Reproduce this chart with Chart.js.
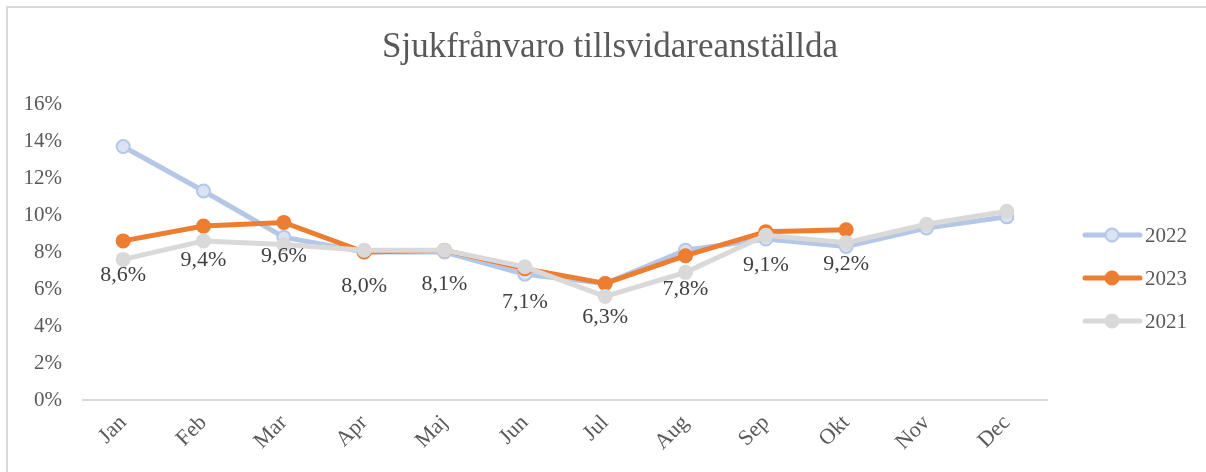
<!DOCTYPE html>
<html>
<head>
<meta charset="utf-8">
<script src="https://cdn.jsdelivr.net/npm/chart.js@4.4.0/dist/chart.umd.min.js"></script>
<style>
  html, body { margin: 0; padding: 0; background: #fff; }
  #wrap { position: relative; width: 1206px; height: 472px; overflow: hidden; }
  #frame { position: absolute; left: 6px; top: 6px; width: 1300px; height: 600px;
           border-left: 2px solid #d9d9d9; border-top: 2px solid #d9d9d9; }
  canvas { position: absolute; left: 0; top: 0; }
</style>
</head>
<body>
<div id="wrap">
  <div id="frame"></div>
  <canvas id="myChart" width="1206" height="472"></canvas>
</div>
<script>
const title = 'Sjukfrånvaro tillsvidareanställda';
const months = ['Jan', 'Feb', 'Mar', 'Apr', 'Maj', 'Jun', 'Jul', 'Aug', 'Sep', 'Okt', 'Nov', 'Dec'];
const v2022 = [13.7, 11.3, 8.8, 8.0, 8.0, 6.8, 6.3, 8.1, 8.7, 8.3, 9.3, 9.9];
const v2023 = [8.6, 9.4, 9.6, 8.0, 8.1, 7.1, 6.3, 7.8, 9.1, 9.2, null, null];
const v2021 = [7.6, 8.6, 8.4, 8.1, 8.1, 7.2, 5.6, 6.9, 8.9, 8.5, 9.5, 10.2];
const yTicks = [0, 2, 4, 6, 8, 10, 12, 14, 16];

const serif = "'Liberation Serif', 'Times New Roman', serif";

// titel, etiketter för 2023 och förklaring ritas här
const extras = {
  id: 'extras',
  afterDraw(chart) {
    const ctx = chart.ctx;
    const area = chart.chartArea;
    ctx.save();

    ctx.fillStyle = '#595959';
    ctx.font = '35px ' + serif;
    ctx.textAlign = 'center';
    ctx.textBaseline = 'middle';
    ctx.fillText(title, 610, 48);

    // dataetiketter under punkterna för 2023
    const meta = chart.getDatasetMeta(1);
    ctx.fillStyle = '#404040';
    ctx.font = '22px ' + serif;
    meta.data.forEach((pt, i) => {
      const v = v2023[i];
      if (v == null) return;
      ctx.fillText(v.toFixed(1).replace('.', ',') + '%', pt.x, pt.y + 34);
    });

    // förklaring till höger
    const x0 = area.right + 38;
    chart.data.datasets.forEach((ds, i) => {
      const y = area.top + 131 + i * 43;
      ctx.strokeStyle = ds.borderColor;
      ctx.lineWidth = 5;
      ctx.lineCap = 'round';
      ctx.beginPath();
      ctx.moveTo(x0, y);
      ctx.lineTo(x0 + 55, y);
      ctx.stroke();
      ctx.beginPath();
      ctx.arc(x0 + 27, y, 6.5, 0, Math.PI * 2);
      ctx.fillStyle = ds.pointBackgroundColor;
      ctx.fill();
      ctx.lineWidth = 2;
      ctx.strokeStyle = ds.pointBorderColor;
      ctx.stroke();
      ctx.fillStyle = '#595959';
      ctx.font = '21px ' + serif;
      ctx.textAlign = 'left';
      ctx.fillText(ds.label, x0 + 60, y + 1);
    });
    ctx.restore();
  }
};

function series(label, data, line, fill, order) {
  return {
    label: label,
    data: data,
    borderColor: line,
    borderWidth: 5,
    pointBackgroundColor: fill,
    pointBorderColor: line,
    pointBorderWidth: 2,
    pointRadius: 6.5,
    pointHoverRadius: 6.5,
    tension: 0,
    order: order
  };
}

new Chart(document.getElementById('myChart'), {
  type: 'line',
  data: {
    labels: months,
    datasets: [
      series('2022', v2022, '#B4C7E7', '#DAE3F3', 3),
      series('2023', v2023, '#ED7D31', '#ED7D31', 2),
      series('2021', v2021, '#D9D9D9', '#D9D9D9', 1)
    ]
  },
  options: {
    responsive: false,
    animation: false,
    layout: { padding: { top: 104, right: 159, left: 0, bottom: 0 } },
    plugins: {
      legend: { display: false },
      tooltip: { enabled: false },
      title: { display: false }
    },
    scales: {
      x: {
        offset: true,
        grid: { display: false, drawTicks: false },
        border: { display: true, color: '#d9d9d9', width: 2 },
        ticks: {
          color: '#595959',
          font: { family: serif, size: 22 },
          minRotation: 45,
          maxRotation: 45,
          padding: 10
        },
        afterFit(scale) { scale.height = 72; }
      },
      y: {
        min: 0,
        max: 16,
        afterBuildTicks(scale) { scale.ticks = yTicks.map(v => ({ value: v })); },
        grid: { display: false, drawTicks: false },
        border: { display: false },
        ticks: {
          color: '#595959',
          font: { family: serif, size: 21 },
          padding: 21,
          callback: v => v + '%'
        },
        afterFit(scale) { scale.width = 83; }
      }
    }
  },
  plugins: [extras]
});
</script>
</body>
</html>
